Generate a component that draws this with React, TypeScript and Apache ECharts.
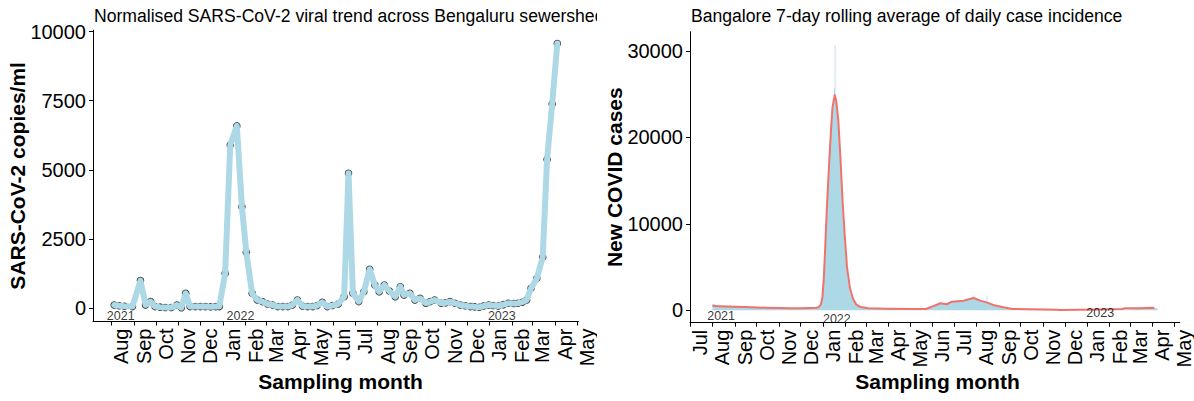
import React, { useEffect, useRef } from 'react';
import * as echarts from 'echarts';

const FONT = "'Liberation Sans', Arial, Helvetica, sans-serif";
const BLUE = '#ADD8E6';
const RED = '#F0736B';

// ---- Wastewater panel ----
const sewageTitle = 'Normalised SARS-CoV-2 viral trend across Bengaluru sewersheds';
const sewageDates = [
  '2021-08-05', '2021-08-12', '2021-08-19', '2021-08-30', '2021-09-10', '2021-09-17', '2021-09-24', '2021-09-30',
  '2021-10-07', '2021-10-14', '2021-10-22', '2021-10-30', '2021-11-05', '2021-11-11', '2021-11-17', '2021-11-24',
  '2021-12-01', '2021-12-08', '2021-12-15', '2021-12-22', '2021-12-27', '2022-01-04', '2022-01-11', '2022-01-20',
  '2022-01-27', '2022-02-02', '2022-02-10', '2022-02-17', '2022-02-24', '2022-03-03', '2022-03-10', '2022-03-17',
  '2022-03-24', '2022-03-31', '2022-04-06', '2022-04-13', '2022-04-20', '2022-04-27', '2022-05-04', '2022-05-10',
  '2022-05-17', '2022-05-24', '2022-05-31', '2022-06-08', '2022-06-16', '2022-06-22', '2022-06-28', '2022-07-06',
  '2022-07-13', '2022-07-21', '2022-07-28', '2022-08-03', '2022-08-10', '2022-08-17', '2022-08-25', '2022-09-01',
  '2022-09-06', '2022-09-14', '2022-09-21', '2022-09-28', '2022-10-06', '2022-10-12', '2022-10-18', '2022-10-27',
  '2022-11-02', '2022-11-08', '2022-11-15', '2022-11-22', '2022-11-29', '2022-12-06', '2022-12-12', '2022-12-18',
  '2022-12-24', '2022-12-31', '2023-01-06', '2023-01-13', '2023-01-20', '2023-01-27', '2023-02-03', '2023-02-09',
  '2023-02-15', '2023-02-21', '2023-02-27', '2023-03-07', '2023-03-15', '2023-03-21', '2023-03-28', '2023-04-04',
];
const sewageCopies = [
  120, 90, 70, 60, 1000, 120, 240, 60,
  40, 30, 30, 120, 20, 540, 60, 60,
  60, 60, 50, 60, 60, 1260, 5900, 6590,
  3670, 2020, 540, 300, 240, 155, 120, 60,
  60, 60, 120, 300, 80, 60, 60, 100,
  215, 60, 100, 155, 420, 4880, 540, 240,
  600, 1410, 840, 600, 840, 620, 420, 780,
  480, 540, 300, 360, 180, 240, 300, 180,
  200, 240, 180, 120, 90, 60, 50, 35,
  80, 120, 100, 80, 130, 180, 170, 180,
  220, 300, 720, 1080, 1840, 5380, 7380, 9570,
];
const sewageYTicks = [0, 2500, 5000, 7500, 10000];
const sewageTickDates = [
  '2021-08-01', '2021-09-01', '2021-10-01', '2021-11-01', '2021-12-01', '2022-01-01', '2022-02-01', '2022-03-01',
  '2022-04-01', '2022-05-01', '2022-06-01', '2022-07-01', '2022-08-01', '2022-09-01', '2022-10-01', '2022-11-01',
  '2022-12-01', '2023-01-01', '2023-02-01', '2023-03-01', '2023-04-01', '2023-05-01',
];
const sewageTickLabels = [
  'Aug', 'Sep', 'Oct', 'Nov', 'Dec', 'Jan', 'Feb', 'Mar', 'Apr', 'May', 'Jun', 'Jul',
  'Aug', 'Sep', 'Oct', 'Nov', 'Dec', 'Jan', 'Feb', 'Mar', 'Apr', 'May',
];
const sewageYearText = ['2021', '2022', '2023'];
const sewageYearDates = ['2021-08-14', '2022-01-25', '2023-01-18'];
const sewageYearY = [-290, -290, -290];

// ---- Case panel ----
const casesTitle = 'Bangalore 7-day rolling average of daily case incidence';
const dailyDates = [
  '2021-08-01', '2021-08-05', '2021-08-20', '2021-09-05', '2021-09-20', '2021-10-05', '2021-10-20', '2021-11-05',
  '2021-11-20', '2021-12-05', '2021-12-20', '2021-12-26', '2021-12-28', '2021-12-29', '2021-12-30', '2021-12-31',
  '2022-01-01', '2022-01-02', '2022-01-03', '2022-01-04', '2022-01-05', '2022-01-06', '2022-01-07', '2022-01-08',
  '2022-01-09', '2022-01-10', '2022-01-11', '2022-01-12', '2022-01-13', '2022-01-14', '2022-01-15', '2022-01-16',
  '2022-01-17', '2022-01-18', '2022-01-19', '2022-01-20', '2022-01-21', '2022-01-22', '2022-01-23', '2022-01-24',
  '2022-01-25', '2022-01-26', '2022-01-27', '2022-01-28', '2022-01-29', '2022-01-30', '2022-01-31', '2022-02-01',
  '2022-02-02', '2022-02-03', '2022-02-04', '2022-02-05', '2022-02-06', '2022-02-07', '2022-02-08', '2022-02-09',
  '2022-02-10', '2022-02-12', '2022-02-14', '2022-02-16', '2022-02-20', '2022-03-01', '2022-03-15', '2022-04-10',
  '2022-05-05', '2022-05-20', '2022-05-28', '2022-06-03', '2022-06-08', '2022-06-12', '2022-06-16', '2022-06-20',
  '2022-06-24', '2022-06-28', '2022-07-02', '2022-07-06', '2022-07-10', '2022-07-14', '2022-07-18', '2022-07-22',
  '2022-07-25', '2022-07-27', '2022-07-28', '2022-07-31', '2022-08-03', '2022-08-06', '2022-08-09', '2022-08-12',
  '2022-08-15', '2022-08-16', '2022-08-19', '2022-08-23', '2022-08-27', '2022-08-31', '2022-09-05', '2022-09-10',
  '2022-09-15', '2022-09-20', '2022-10-20', '2022-11-20', '2022-12-20', '2023-01-20', '2023-02-20', '2023-03-10',
  '2023-03-30', '2023-04-06', '2023-04-08',
];
const dailyCases = [
  700, 520, 460, 420, 370, 320, 290, 250,
  230, 260, 290, 350, 600, 900, 1400, 2100,
  3000, 4400, 6200, 8300, 10400, 12400, 14000, 15500,
  17000, 18500, 20000, 21500, 22500, 23500, 24000, 25700,
  30700, 24500, 24200, 23800, 22500, 21000, 19500, 17800,
  16000, 14000, 12500, 11000, 9500, 8000, 7000, 6000,
  5000, 4200, 3500, 3000, 2500, 2100, 1800, 1500,
  1250, 1000, 800, 600, 420, 260, 200, 180,
  160, 200, 300, 520, 700, 850, 720, 800,
  980, 1080, 1000, 1150, 1180, 1150, 1300, 1350,
  1500, 1750, 1450, 1350, 1250, 1150, 1000, 950,
  1700, 850, 800, 620, 500, 400, 330, 250,
  190, 140, 110, 60, 60, 80, 140, 200,
  250, 320, 320,
];
const avgDates = [
  '2021-08-01', '2021-08-10', '2021-08-20', '2021-09-01', '2021-09-15', '2021-10-01', '2021-10-15', '2021-11-01',
  '2021-11-15', '2021-12-01', '2021-12-15', '2021-12-23', '2021-12-26', '2021-12-29', '2021-12-31', '2022-01-02',
  '2022-01-04', '2022-01-06', '2022-01-09', '2022-01-12', '2022-01-14', '2022-01-17', '2022-01-19', '2022-01-22',
  '2022-01-25', '2022-01-28', '2022-01-31', '2022-02-03', '2022-02-07', '2022-02-11', '2022-02-16', '2022-02-22',
  '2022-03-04', '2022-04-01', '2022-05-01', '2022-05-23', '2022-06-03', '2022-06-12', '2022-06-21', '2022-06-28',
  '2022-07-14', '2022-07-28', '2022-08-06', '2022-08-15', '2022-08-24', '2022-09-07', '2022-09-20', '2022-10-15',
  '2022-11-20', '2022-11-25', '2022-12-20', '2023-01-15', '2023-02-18', '2023-02-23', '2023-03-15', '2023-04-01',
  '2023-04-04',
];
const avgCases = [
  520, 480, 450, 420, 380, 330, 300, 270,
  230, 250, 280, 300, 380, 700, 1500, 3800,
  7500, 11500, 16500, 21000, 23500, 24900, 24300, 22000,
  17500, 12500, 8500, 5000, 2600, 1400, 650, 380,
  230, 190, 160, 150, 500, 810, 700, 1000,
  1100, 1420, 1120, 920, 620, 350, 160, 130,
  70, 40, 60, 90, 150, 230, 230, 300,
  260,
];
const casesYTicks = [0, 10000, 20000, 30000];
const casesTickDates = ['2021-07-01', ...sewageTickDates];
const casesTickLabels = ['Jul', ...sewageTickLabels];
const casesYearText = ['2021', '2022', '2023'];
const casesYearDates = ['2021-08-13', '2022-01-20', '2023-01-19'];
const casesYearY = [-620, -950, -320];

const ts = (d: string) => Date.parse(d + 'T00:00:00Z');

type PanelCfg = {
  title: string;
  yName: string;
  xMin: string;
  xMax: string;
  yMin: number;
  yMax: number;
  gridTop: number;
  gridHeight: number;
  yTicks: number[];
  tickDates: string[];
  tickLabels: string[];
  yearText: string[];
  yearDates: string[];
  yearY: number[];
  series: any[];
};

function buildOption(cfg: PanelCfg) {
  const tickVals = cfg.tickDates.map(ts);
  const labelFor = (v: number) => {
    const i = tickVals.indexOf(v);
    return i >= 0 ? cfg.tickLabels[i] : '';
  };
  const panelLeft = 93;
  const panelWidth = 495;
  const panelCenterY = cfg.gridTop + cfg.gridHeight / 2;
  return {
    animation: false,
    backgroundColor: '#ffffff',
    grid: { left: panelLeft, top: cfg.gridTop, width: panelWidth, height: cfg.gridHeight },
    xAxis: {
      type: 'value',
      min: ts(cfg.xMin),
      max: ts(cfg.xMax),
      axisLine: { show: true, onZero: false, lineStyle: { color: '#000', width: 1 } },
      axisTick: { show: true, customValues: tickVals, length: 4, lineStyle: { color: '#000', width: 1 } },
      axisLabel: {
        show: true,
        customValues: tickVals,
        rotate: 90,
        margin: 7,
        verticalAlign: 'top',
        formatter: (v: number) => labelFor(v),
        fontFamily: FONT,
        fontSize: 20,
        color: '#000',
      },
      splitLine: { show: false },
    },
    yAxis: {
      type: 'value',
      min: cfg.yMin,
      max: cfg.yMax,
      axisLine: { show: true, onZero: false, lineStyle: { color: '#000', width: 1 } },
      axisTick: { show: true, customValues: cfg.yTicks, length: 4, lineStyle: { color: '#000', width: 1 } },
      axisLabel: {
        show: true,
        customValues: cfg.yTicks,
        margin: 7,
        formatter: (v: number) => String(v),
        fontFamily: FONT,
        fontSize: 20,
        color: '#000',
      },
      splitLine: { show: false },
    },
    graphic: [
      {
        type: 'text',
        left: 94,
        top: 7,
        style: { text: cfg.title, font: `17.6px ${FONT}`, fill: '#000' },
      },
      {
        type: 'text',
        x: 17,
        y: panelCenterY,
        rotation: Math.PI / 2,
        style: {
          text: cfg.yName,
          font: `bold 21px ${FONT}`,
          fill: '#000',
          align: 'center',
          verticalAlign: 'middle',
        },
      },
      {
        type: 'text',
        x: panelLeft + panelWidth / 2,
        y: 381,
        style: {
          text: 'Sampling month',
          font: `bold 21px ${FONT}`,
          fill: '#000',
          align: 'center',
          verticalAlign: 'middle',
        },
      },
    ],
    series: [
      ...cfg.series,
      {
        type: 'scatter',
        symbolSize: 0,
        silent: true,
        z: 10,
        data: cfg.yearText.map((t, i) => ({ name: t, value: [ts(cfg.yearDates[i]), cfg.yearY[i]] })),
        label: {
          show: true,
          position: 'inside',
          formatter: '{b}',
          fontFamily: FONT,
          fontSize: 12.5,
          color: '#000',
        },
      },
    ],
  };
}

function sewageOption() {
  const pts = sewageDates.map((d, i) => [ts(d), sewageCopies[i]]);
  return buildOption({
    title: sewageTitle,
    yName: 'SARS-CoV-2 copies/ml',
    xMin: '2021-07-07',
    xMax: '2023-05-03',
    yMin: -478.5,
    yMax: 10048.5,
    gridTop: 30.2,
    gridHeight: 291.3,
    yTicks: sewageYTicks,
    tickDates: sewageTickDates,
    tickLabels: sewageTickLabels,
    yearText: sewageYearText,
    yearDates: sewageYearDates,
    yearY: sewageYearY,
    series: [
      {
        type: 'scatter',
        data: pts,
        symbol: 'circle',
        symbolSize: 7.5,
        itemStyle: { color: '#000' },
        z: 2,
        silent: true,
      },
      {
        type: 'line',
        data: pts,
        symbol: 'none',
        lineStyle: { color: BLUE, width: 6, cap: 'round', join: 'round' },
        z: 3,
        silent: true,
      },
    ],
  });
}

function casesOption() {
  const daily = dailyDates.map((d, i) => [ts(d), dailyCases[i]]);
  const avg = avgDates.map((d, i) => [ts(d), avgCases[i]]);
  return buildOption({
    title: casesTitle,
    yName: 'New COVID cases',
    xMin: '2021-07-01',
    xMax: '2023-05-09',
    yMin: -1435,
    yMax: 32235,
    gridTop: 31.7,
    gridHeight: 291,
    yTicks: casesYTicks,
    tickDates: casesTickDates,
    tickLabels: casesTickLabels,
    yearText: casesYearText,
    yearDates: casesYearDates,
    yearY: casesYearY,
    series: [
      {
        type: 'line',
        data: daily,
        step: 'end',
        symbol: 'none',
        lineStyle: { width: 0, color: BLUE },
        areaStyle: { color: BLUE, opacity: 1 },
        z: 2,
        silent: true,
      },
      {
        type: 'line',
        data: avg,
        symbol: 'none',
        lineStyle: { color: RED, width: 2, join: 'round' },
        z: 3,
        silent: true,
      },
    ],
  });
}

function Panel({ makeOption }: { makeOption: () => any }) {
  const ref = useRef<HTMLDivElement>(null);
  useEffect(() => {
    if (!ref.current) return;
    const chart = echarts.init(ref.current, undefined, { renderer: 'svg' });
    chart.setOption(makeOption());
    return () => chart.dispose();
  }, [makeOption]);
  return <div ref={ref} style={{ width: 597, height: 401 }} />;
}

export default function App() {
  return (
    <div
      style={{
        position: 'fixed',
        left: 0,
        top: 0,
        width: 1194,
        height: 401,
        display: 'flex',
        background: '#fff',
        overflow: 'hidden',
      }}
    >
      <div style={{ width: 597, height: 401, overflow: 'hidden' }}>
        <Panel makeOption={sewageOption} />
      </div>
      <div style={{ width: 597, height: 401, overflow: 'hidden' }}>
        <Panel makeOption={casesOption} />
      </div>
    </div>
  );
}
